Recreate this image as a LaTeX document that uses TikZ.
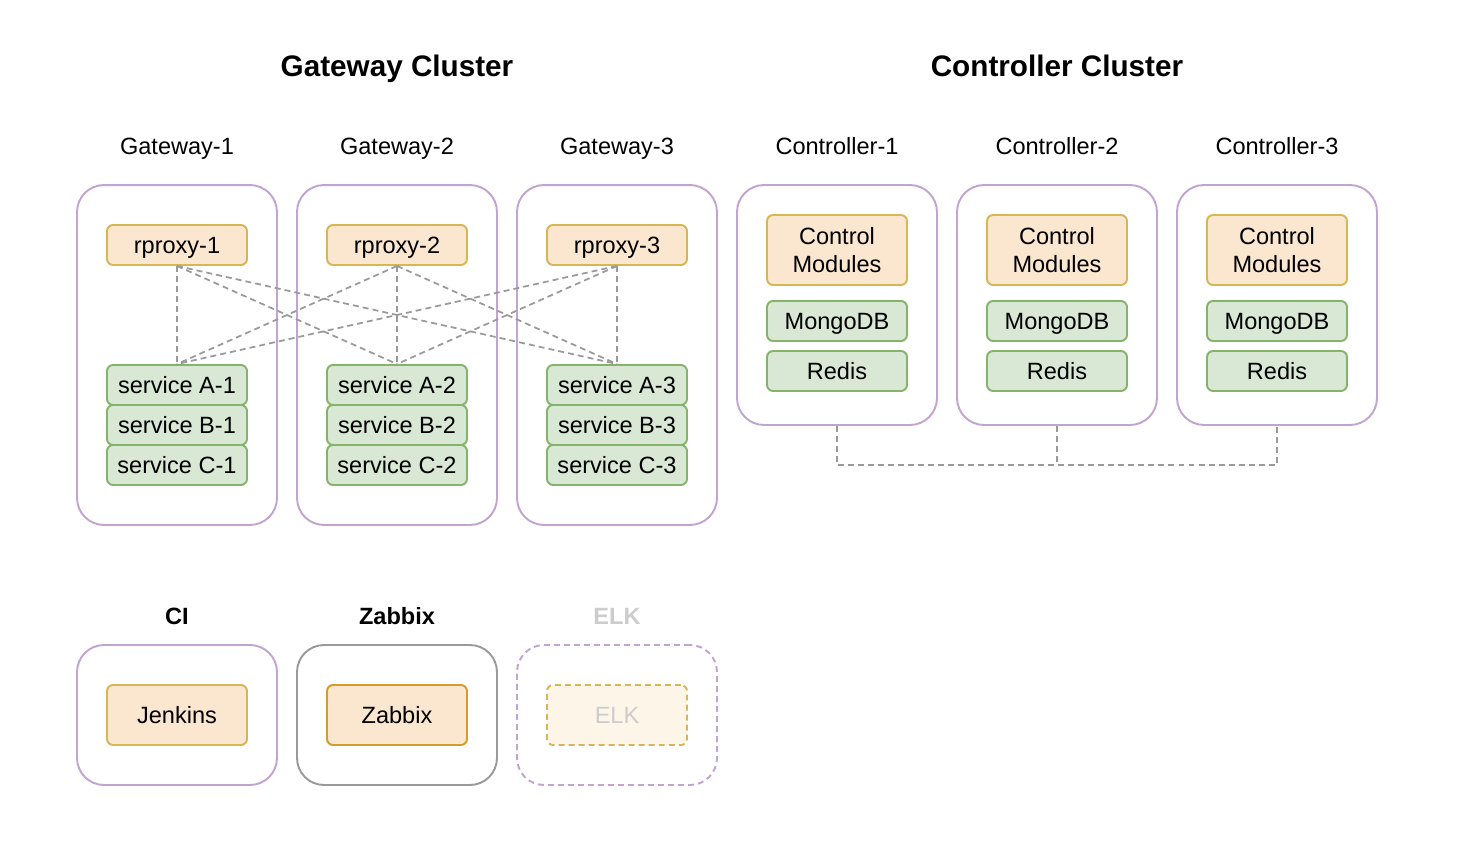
\documentclass[tikz,border=0pt]{standalone}
\usepackage{fontspec}
\setmainfont{Liberation Sans}
\definecolor{frame}{HTML}{C3A3D0}
\definecolor{hostgray}{HTML}{9A9A9A}
\definecolor{orfill}{HTML}{FBE6D0}
\definecolor{ordraw}{HTML}{D6B656}
\definecolor{zbdraw}{HTML}{D69B2C}
\definecolor{grfill}{HTML}{D9E8D5}
\definecolor{grdraw}{HTML}{84B46A}
\definecolor{faint}{HTML}{CCCCCC}
\definecolor{elkfill}{HTML}{FEF5E9}
\begin{document}
\begin{tikzpicture}[x=0.02cm,y=-0.02cm,
  every node/.style={font=\fontsize{13.4}{16}\selectfont,text height=9.6pt,text depth=0pt},
  host/.style={draw=frame,line width=1.1pt,rounded corners=0.54cm,minimum width=4cm,inner sep=0pt},
  proxy/.style={draw=ordraw,fill=orfill,line width=1.1pt,rounded corners=0.12cm,minimum width=2.8cm,minimum height=0.8cm,inner sep=0pt},
  svc/.style={draw=grdraw,fill=grfill,line width=1.1pt,rounded corners=0.12cm,minimum width=2.8cm,minimum height=0.8cm,inner sep=0pt},
  title/.style={font=\fontsize{16.9}{20}\selectfont\bfseries,text height=12.2pt},
  head/.style={font=\fontsize{13.4}{16}\selectfont\bfseries},
  link/.style={draw=hostgray,line width=1pt,dash pattern=on 3.4pt off 2.3pt}]
\useasboundingbox (0,0) rectangle (1472,842);
\node[title] (gwt) at (397,66) {Gateway Cluster};
\node[title] (ctt) at (1057,66) {Controller Cluster};
\foreach \i/\x in {1/177,2/397,3/617} {
  \node[host,minimum height=6.8cm] (gw\i) at (\x,355) {};
  \node (gwl\i) at (\x,146) {Gateway-\i};
  \node[proxy] (rp\i) at (\x,245) {rproxy-\i};
  \node[svc] (sa\i) at (\x,385) {service A-\i};
  \node[svc] (sb\i) at (\x,425) {service B-\i};
  \node[svc] (sc\i) at (\x,465) {service C-\i};
}
\foreach \i in {1,2,3}
  \foreach \j in {1,2,3}
    \draw[link] (rp\i.south) -- (sa\j.north);
\foreach \i/\x in {1/837,2/1057,3/1277} {
  \node[host,minimum height=4.8cm] (ct\i) at (\x,305) {};
  \node (ctl\i) at (\x,146) {Controller-\i};
  \node[proxy,minimum height=1.4cm,align=center,text height=,text depth=] (cm\i) at (\x,250) {Control\\Modules};
  \node[svc] (mg\i) at (\x,321) {MongoDB};
  \node[svc] (rd\i) at (\x,371) {Redis};
}
\coordinate (bus) at (1057,465);
\draw[link] (ct1.south) |- (bus) -| (ct3.south);
\draw[link] (ct2.south) -- (bus);
\node[head] (cil) at (177,616) {CI};
\node[host,minimum height=2.8cm] (ci) at (177,715) {};
\node[proxy,minimum height=1.2cm] (jk) at (177,715) {Jenkins};
\node[head] (zbl) at (397,616) {Zabbix};
\node[host,draw=hostgray,minimum height=2.8cm] (zb) at (397,715) {};
\node[proxy,draw=zbdraw,minimum height=1.2cm] (zbx) at (397,715) {Zabbix};
\node[head,text=faint] (elkl) at (617,616) {ELK};
\node[host,minimum height=2.8cm,dash pattern=on 3.4pt off 2.3pt] (elk) at (617,715) {};
\node[proxy,fill=elkfill,text=faint,minimum height=1.2cm,dash pattern=on 3.4pt off 2.3pt] (elkx) at (617,715) {ELK};
\end{tikzpicture}
\end{document}
